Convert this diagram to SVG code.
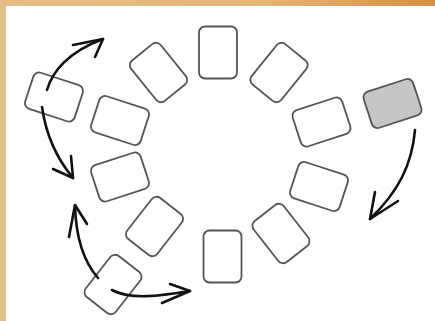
<svg xmlns="http://www.w3.org/2000/svg" width="435" height="321" viewBox="0 0 435 321">
<defs>
<linearGradient id="bg" x1="0" y1="0" x2="1" y2="0">
<stop offset="0" stop-color="#e6bd84"/>
<stop offset="0.6" stop-color="#e8b574"/>
<stop offset="1" stop-color="#d98f3c"/>
</linearGradient>
<style>
.card{fill:#ffffff;stroke:#555555;stroke-width:1.8}
.gray{fill:#c6c6c6}
.arr{fill:none;stroke:#111111;stroke-width:2.6;stroke-linecap:round;stroke-linejoin:round}
</style>
<rect id="land" x="-26" y="-19" width="52" height="38" rx="6"/>
<rect id="port" x="-19" y="-26" width="38" height="52" rx="6"/>
</defs>
<rect width="435" height="321" fill="url(#bg)"/>
<rect x="6" y="6" width="429" height="315" fill="#ffffff"/>
<g id="card1"><use href="#port" class="card" transform="translate(218,52.5)"/></g>
<g id="card2"><use href="#port" class="card" transform="translate(158.5,72.5) rotate(-39)"/></g>
<g id="card3"><use href="#port" class="card" transform="translate(279,72.5) rotate(39)"/></g>
<g id="card4"><use href="#land" class="card" transform="translate(321.5,122) rotate(-18)"/></g>
<g id="card5"><use href="#land" class="card gray" transform="translate(392.5,103.5) rotate(-18)"/></g>
<g id="card6"><use href="#land" class="card" transform="translate(120,120.5) rotate(18)"/></g>
<g id="card7"><use href="#land" class="card" transform="translate(54,97) rotate(18)"/></g>
<g id="card8"><use href="#land" class="card" transform="translate(120,177) rotate(-18)"/></g>
<g id="card9"><use href="#port" class="card" transform="translate(154.5,226.5) rotate(38)"/></g>
<g id="card10"><use href="#port" class="card" transform="translate(281,233.5) rotate(-38)"/></g>
<g id="card11"><use href="#land" class="card" transform="translate(319,186.5) rotate(18)"/></g>
<g id="card12"><use href="#port" class="card" transform="translate(222.5,256.5)"/></g>
<g id="card13"><use href="#port" class="card" transform="translate(113,284.5) rotate(38)"/></g>
<g id="connectors" class="arr">
<path d="M47,90 C52,72 68,52 103,39"/><path d="M73,45 L103,39 L95,57"/>
<path d="M42,107 C46,135 58,160 73,178"/><path d="M71,156 L73,178 L53,169"/>
<path d="M98,278 C84,262 76,240 75,206"/><path d="M69,237 L75,205 L87,224"/>
<path d="M112,290 C130,300 160,296 190,291"/><path d="M170,284 L190,291 L162,303"/>
<path d="M415,130 C412,165 398,192 370,219"/><path d="M375,192 L370,219 L398,201"/>
</g>
</svg>
